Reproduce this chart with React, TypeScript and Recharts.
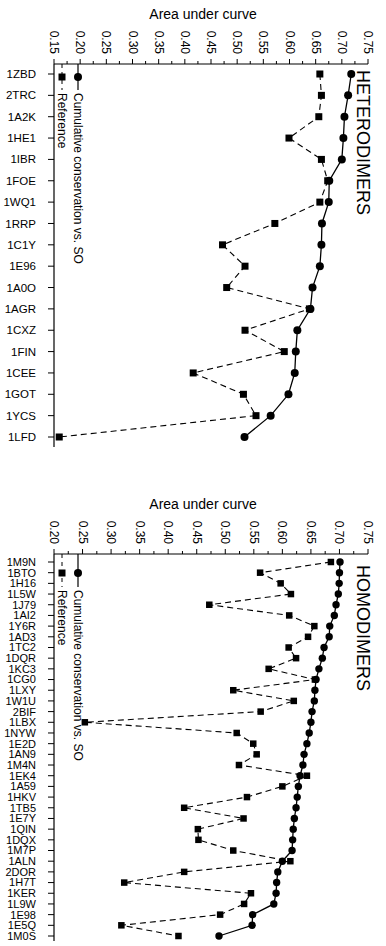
import React from "react";
import { LineChart, Line, XAxis, YAxis } from "recharts";

// HETERODIMERS panel
const heteroNames = [
  "1ZBD", "2TRC", "1A2K", "1HE1", "1IBR", "1FOE", "1WQ1", "1RRP", "1C1Y",
  "1E96", "1A0O", "1AGR", "1CXZ", "1FIN", "1CEE", "1GOT", "1YCS", "1LFD",
];
const heteroCumulative = [
  0.718, 0.712, 0.705, 0.703, 0.7, 0.676, 0.675, 0.662, 0.661,
  0.658, 0.644, 0.64, 0.615, 0.612, 0.61, 0.598, 0.564, 0.514,
];
const heteroReference = [
  0.658, 0.661, 0.656, 0.599, 0.661, 0.673, 0.658, 0.572, 0.472,
  0.515, 0.48, 0.638, 0.515, 0.59, 0.416, 0.512, 0.536, 0.16,
];
const heteroTicks = [
  0.15, 0.175, 0.2, 0.225, 0.25, 0.275, 0.3, 0.325, 0.35, 0.375, 0.4, 0.425,
  0.45, 0.475, 0.5, 0.525, 0.55, 0.575, 0.6, 0.625, 0.65, 0.675, 0.7, 0.725, 0.75,
];

// HOMODIMERS panel
const homoNames = [
  "1M9N", "1BTO", "1H16", "1L5W", "1J79", "1AI2", "1Y6R", "1AD3", "1TC2",
  "1DQR", "1KC3", "1CG0", "1LXY", "1W1U", "2BIF", "1LBX", "1NYW", "1E2D",
  "1AN9", "1M4N", "1EK4", "1A59", "1HKV", "1TB5", "1E7Y", "1QIN", "1DQX",
  "1M7P", "1ALN", "2DOR", "1H7T", "1KER", "1L9W", "1E98", "1E5Q", "1M0S",
];
const homoCumulative = [
  0.701, 0.7, 0.6995, 0.698, 0.694, 0.691, 0.683, 0.682, 0.673,
  0.67, 0.664, 0.659, 0.657, 0.656, 0.652, 0.65, 0.647, 0.643,
  0.638, 0.636, 0.631, 0.628, 0.626, 0.624, 0.621, 0.619, 0.618,
  0.617, 0.6, 0.592, 0.59, 0.589, 0.585, 0.548, 0.547, 0.489,
];
const homoReference = [
  0.685, 0.561, 0.597, 0.615, 0.472, 0.612, 0.656, 0.645, 0.611,
  0.624, 0.576, 0.657, 0.514, 0.62, 0.562, 0.254, 0.52, 0.549,
  0.555, 0.524, 0.643, 0.6, 0.538, 0.428, 0.532, 0.452, 0.453,
  0.514, 0.614, 0.428, 0.323, 0.545, 0.533, 0.491, 0.318, 0.418,
];
const homoTicks = [
  0.2, 0.225, 0.25, 0.275, 0.3, 0.325, 0.35, 0.375, 0.4, 0.425, 0.45, 0.475,
  0.5, 0.525, 0.55, 0.575, 0.6, 0.625, 0.65, 0.675, 0.7, 0.725, 0.75,
];

const FONT = '"Liberation Sans", Arial, sans-serif';

const ValueTick = (props: any) => {
  const { x, y, payload } = props;
  const v = payload.value as number;
  const major = Math.round(v * 1000) % 50 === 0;
  const ty = y - 10;
  return (
    <g>
      <line x1={x} x2={x} y1={y} y2={y - (major ? 5 : 3)} stroke="#000" />
      {major && (
        <text
          x={x}
          y={ty}
          transform={`rotate(90, ${x}, ${ty})`}
          textAnchor="end"
          dominantBaseline="central"
          fontSize={12}
          fill="#000"
        >
          {v.toFixed(2)}
        </text>
      )}
    </g>
  );
};

const SquareDot = (props: any) => {
  const { cx, cy, size } = props;
  if (cx == null || cy == null) return null;
  const s = size || 7;
  return <rect x={cx - s / 2} y={cy - s / 2} width={s} height={s} fill="#000" />;
};

type LegendProps = { top: number; markY: number; textY: number };

const RotLegend = ({ top, markY, textY }: LegendProps) => (
  <g>
    <line x1={62} x2={62} y1={top} y2={textY - 3} stroke="#000" strokeDasharray="4 4" />
    <rect x={58.5} y={markY - 3.5} width={7} height={7} fill="#000" />
    <text
      x={62}
      y={textY}
      transform={`rotate(90, 62, ${textY})`}
      dominantBaseline="central"
      fontSize={12}
      fill="#000"
    >
      Reference
    </text>
    <line x1={78} x2={78} y1={top} y2={textY - 3} stroke="#000" strokeWidth={1.2} />
    <circle cx={78} cy={markY} r={4} fill="#000" />
    <text
      x={78}
      y={textY}
      transform={`rotate(90, 78, ${textY})`}
      dominantBaseline="central"
      fontSize={12}
      fill="#000"
    >
      Cumulative conservation vs. SO
    </text>
  </g>
);

type PanelProps = {
  names: string[];
  cumulative: number[];
  reference: number[];
  ticks: number[];
  domain: [number, number];
  height: number;
  marginTop: number;
  marginBottom: number;
  padTop: number;
  padBottom: number;
  catFont: number;
  title: string;
  titleY: number;
  legend: LegendProps;
  squareSize: number;
  dotR: number;
};

const Panel = (p: PanelProps) => {
  const data = p.names.map((name, i) => ({
    name,
    cumulative: p.cumulative[i],
    reference: p.reference[i],
  }));
  const plotTop = p.marginTop + 60;
  return (
    <LineChart
      width={386}
      height={p.height}
      data={data}
      layout="vertical"
      margin={{ top: p.marginTop, right: 18, left: 0, bottom: p.marginBottom }}
    >
      <XAxis
        type="number"
        orientation="top"
        domain={p.domain}
        ticks={p.ticks}
        interval={0}
        height={60}
        tickSize={0}
        tickMargin={0}
        tickLine={false}
        allowDataOverflow
        axisLine={{ stroke: "#000", strokeWidth: 1.2 }}
        tick={<ValueTick />}
      />
      <YAxis
        type="category"
        dataKey="name"
        width={54}
        interval={0}
        tickSize={6}
        tickMargin={12}
        padding={{ top: p.padTop, bottom: p.padBottom }}
        axisLine={{ stroke: "#000", strokeWidth: 1.2 }}
        tickLine={{ stroke: "#000" }}
        tick={{ fill: "#000", fontSize: p.catFont, fontFamily: FONT }}
      />
      <Line
        dataKey="reference"
        stroke="#000"
        strokeWidth={1.1}
        strokeDasharray="6 4"
        dot={<SquareDot size={p.squareSize} />}
        activeDot={false}
        isAnimationActive={false}
      />
      <Line
        dataKey="cumulative"
        stroke="#000"
        strokeWidth={1.3}
        dot={{ r: p.dotR, fill: "#000", stroke: "#000", strokeWidth: 0 }}
        activeDot={false}
        isAnimationActive={false}
      />
      <text
        x={203}
        y={plotTop - 50}
        textAnchor="middle"
        dominantBaseline="central"
        fontSize={14}
        fill="#000"
      >
        Area under curve
      </text>
      <text
        x={363}
        y={p.titleY}
        transform={`rotate(90, 363, ${p.titleY})`}
        dominantBaseline="central"
        fontSize={18}
        fill="#000"
      >
        {p.title}
      </text>
      <RotLegend {...p.legend} />
    </LineChart>
  );
};

export default function App() {
  return (
    <div
      style={{
        position: "absolute",
        left: 0,
        top: 0,
        width: 386,
        height: 946,
        background: "#fff",
        fontFamily: FONT,
      }}
    >
      <Panel
        names={heteroNames}
        cumulative={heteroCumulative}
        reference={heteroReference}
        ticks={heteroTicks}
        domain={[0.15, 0.75]}
        height={480}
        marginTop={4}
        marginBottom={33}
        padTop={10}
        padBottom={10}
        catFont={11.5}
        title="HETERODIMERS"
        titleY={70}
        legend={{ top: 64, markY: 77, textY: 93 }}
        squareSize={7}
        dotR={4}
      />
      <Panel
        names={homoNames}
        cumulative={homoCumulative}
        reference={homoReference}
        ticks={homoTicks}
        domain={[0.2, 0.75]}
        height={466}
        marginTop={14}
        marginBottom={5}
        padTop={8}
        padBottom={5}
        catFont={11}
        title="HOMODIMERS"
        titleY={85}
        legend={{ top: 74, markY: 93, textY: 110 }}
        squareSize={6.5}
        dotR={3.7}
      />
    </div>
  );
}
